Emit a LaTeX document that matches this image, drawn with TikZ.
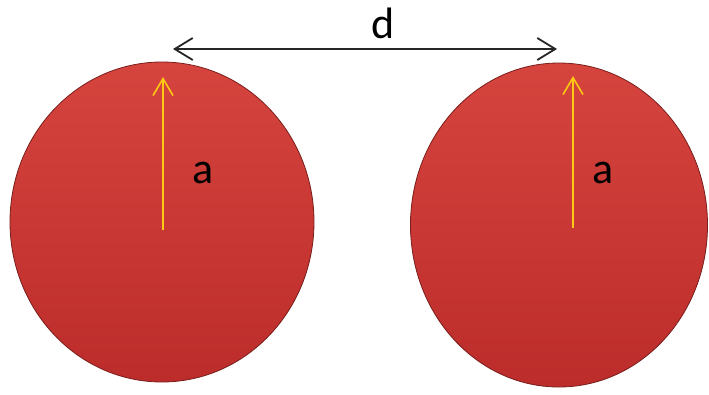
\documentclass[tikz,border=0pt]{standalone}
\usepackage{fontspec}
\setmainfont{Carlito}
\usetikzlibrary{arrows.meta,shapes.geometric}
\definecolor{balltop}{RGB}{214,68,62}
\definecolor{ballbot}{RGB}{188,44,42}
\definecolor{balledge}{RGB}{120,30,28}
\definecolor{yarr}{RGB}{255,200,20}
\tikzset{
  ball/.style={ellipse, inner sep=0pt, draw=balledge, line width=0.8pt, top color=balltop, bottom color=ballbot},
  radarrow/.style={draw=yarr, line width=2pt, -{Straight Barb[length=17pt,width=20pt,line width=1.6pt]}},
  distarrow/.style={draw=black!85, line width=2pt, {Straight Barb[length=18pt,width=22pt,line width=1.8pt]}-{Straight Barb[length=18pt,width=22pt,line width=1.8pt]}},
  lbl/.style={font=\fontsize{44}{48}\selectfont, text=black, inner sep=0pt, anchor=base}
}
\begin{document}
\begin{tikzpicture}[x=1pt,y=-1pt]
\useasboundingbox (0,0) rectangle (709,394);
\fill[white] (0,0) rectangle (709,394);
\node[ball, minimum width=304pt, minimum height=320pt] (L) at (162,222) {};
\node[ball, minimum width=297pt, minimum height=324pt] (R) at (559,225) {};
\coordinate (Lc) at (163,230);
\coordinate (Lt) at (163,77);
\coordinate (Rc) at (573,228);
\coordinate (Rt) at (573,76);
\draw[radarrow] (Lc) -- (Lt);
\draw[radarrow] (Rc) -- (Rt);
\coordinate (d1) at (173,49);
\coordinate (d2) at (557,49);
\draw[distarrow] (d1) -- (d2);
\node[lbl] (dl) at (383,38) {d};
\node[lbl] (al) at (203,183) {a};
\node[lbl] (ar) at (603,183) {a};
\end{tikzpicture}
\end{document}
